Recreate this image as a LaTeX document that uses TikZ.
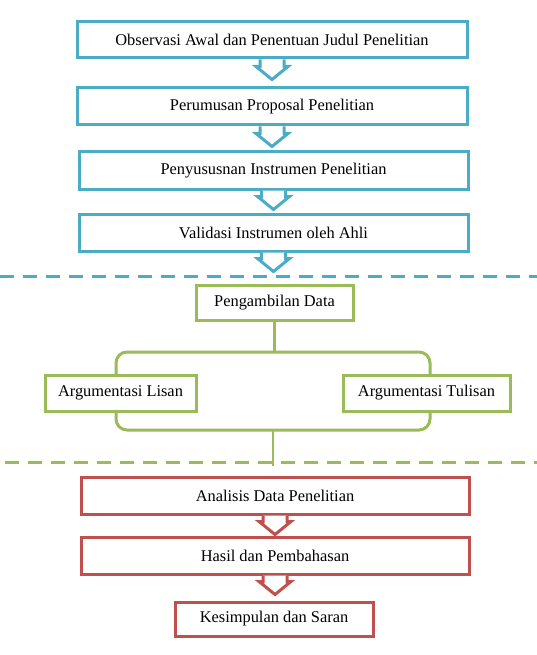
\documentclass[tikz,border=0pt]{standalone}
\usepackage{fontspec}
\setmainfont{Liberation Serif}
\usetikzlibrary{calc}
\definecolor{cblue}{HTML}{4BACC6}
\definecolor{cgreen}{HTML}{9BBB59}
\definecolor{cred}{HTML}{C0504D}
\newcommand{\flowarrow}[3]{% node, colour, depth (downwards)
  \draw[#2, line width=3pt, line join=miter, fill=white]
    ($(#1.south)+(-12,0)$) -- ($(#1.south)+(-12,#3-13)$) -- ($(#1.south)+(-16,#3-13)$)
    -- ($(#1.south)+(0,#3)$)
    -- ($(#1.south)+(16,#3-13)$) -- ($(#1.south)+(12,#3-13)$) -- ($(#1.south)+(12,0)$);
}
\begin{document}
\begin{tikzpicture}[x=1pt,y=-1pt,
  every node/.style={font=\fontsize{16.4}{20}\selectfont, inner sep=0pt, fill=white},
  bluebox/.style={draw=cblue, line width=3pt},
  greenbox/.style={draw=cgreen, line width=3pt},
  redbox/.style={draw=cred, line width=3pt},
  sepline/.style={line width=3pt, dash pattern=on 14pt off 9pt}]
\useasboundingbox (0,0) rectangle (537,655);
\fill[white] (0,0) rectangle (537,655);

% blue part
\node[bluebox, minimum width=390pt, minimum height=36pt] (b1) at (272,40) {Observasi Awal dan Penentuan Judul Penelitian};
\node[bluebox, minimum width=390pt, minimum height=37pt] (b2) at (272,106.5) {Perumusan Proposal Penelitian};
\node[bluebox, minimum width=389pt, minimum height=37pt] (b3) at (273.5,170.5) {Penyususnan Instrumen Penelitian};
\node[bluebox, minimum width=389pt, minimum height=37pt] (b4) at (273.5,232.5) {Validasi Instrumen oleh Ahli};
\flowarrow{b1}{cblue}{20}
\flowarrow{b2}{cblue}{20}
\flowarrow{b3}{cblue}{19}
\flowarrow{b4}{cblue}{19}
\draw[sepline, cblue] (0,276) -- (537,276);

% green part
\node[greenbox, minimum width=157pt, minimum height=35pt] (g1) at (274.5,302.5) {Pengambilan Data};
\coordinate (brtop) at (274.5,352);
\coordinate (brbot) at (273,430);
\coordinate (gend) at (273,466);
\draw[cgreen, line width=3pt, rounded corners=11pt] (116,352) rectangle (430,430);
\draw[cgreen, line width=2.5pt] (g1.south) -- (brtop);
\draw[cgreen, line width=2.5pt] (brbot) -- (gend);
\node[greenbox, minimum width=151pt, minimum height=36pt] (g2) at (120.5,393) {Argumentasi Lisan};
\node[greenbox, minimum width=167pt, minimum height=36pt] (g3) at (426.5,393) {Argumentasi Tulisan};
\draw[sepline, cgreen] (5,462) -- (537,462);

% red part
\node[redbox, minimum width=388pt, minimum height=37pt] (r1) at (275,495.5) {Analisis Data Penelitian};
\node[redbox, minimum width=388pt, minimum height=37pt] (r2) at (275,555.5) {Hasil dan Pembahasan};
\node[redbox, minimum width=198pt, minimum height=34pt] (r3) at (274,619) {Kesimpulan dan Saran};
\flowarrow{r1}{cred}{19}
\flowarrow{r2}{cred}{19}
\end{tikzpicture}
\end{document}
